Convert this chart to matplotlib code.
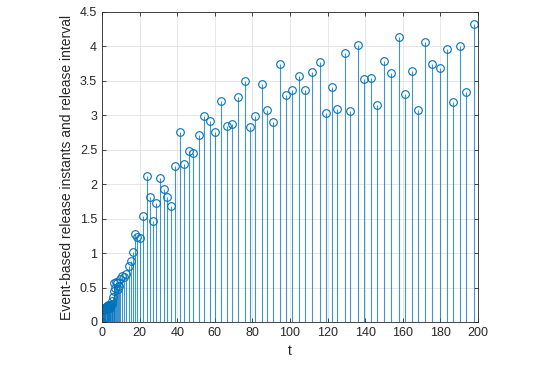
import matplotlib.pyplot as plt
import numpy as np

plt.rcParams['font.family'] = ['Liberation Sans', 'DejaVu Sans']

# dense start (t < 10)
t_early = [0.0, 0.3, 0.6, 0.9, 1.2, 1.5, 1.8, 2.1, 2.4, 2.7, 3.0, 3.3, 3.6, 3.9,
           4.2, 4.5, 4.8, 5.1, 5.4, 5.8, 6.2, 6.6, 7.0, 7.5, 8.0, 8.5, 9.0, 9.5]
y_early = [0.0, 0.17, 0.19, 0.18, 0.20, 0.21, 0.19, 0.22, 0.20, 0.23, 0.21, 0.24, 0.22, 0.25,
           0.23, 0.21, 0.24, 0.26, 0.30, 0.37, 0.45, 0.57, 0.50, 0.58, 0.56, 0.48, 0.52, 0.62]

# later release instants
t_late = [10.5, 11.7, 12.8, 14.2, 15.2, 16.3, 17.5, 18.6, 20.2, 21.6, 23.7, 25.7, 27.1,
          28.7, 31.0, 33.0, 34.7, 36.5, 38.6, 41.5, 43.6, 46.1, 48.5, 51.4, 54.4, 57.4,
          60.1, 63.1, 66.3, 69.1, 72.1, 75.8, 78.7, 81.5, 85.0, 88.0, 90.9, 94.6, 97.8,
          101.3, 104.9, 108.1, 111.8, 115.7, 118.9, 122.1, 125.2, 129.1, 132.1, 136.2,
          139.6, 143.3, 146.3, 150.2, 153.7, 157.8, 161.2, 164.9, 167.9, 171.9, 175.7,
          179.6, 183.3, 186.5, 190.4, 193.8, 198.0]
y_late = [0.67, 0.65, 0.70, 0.81, 0.89, 1.02, 1.28, 1.24, 1.22, 1.54, 2.12, 1.82, 1.46,
          1.73, 2.09, 1.93, 1.82, 1.69, 2.26, 2.76, 2.29, 2.48, 2.46, 2.72, 2.99, 2.92,
          2.76, 3.21, 2.85, 2.87, 3.26, 3.50, 2.83, 2.99, 3.45, 3.08, 2.91, 3.75, 3.29,
          3.37, 3.57, 3.37, 3.63, 3.78, 3.04, 3.41, 3.09, 3.91, 3.07, 4.02,
          3.53, 3.54, 3.15, 3.79, 3.61, 4.14, 3.31, 3.64, 3.08, 4.06, 3.75,
          3.69, 3.96, 3.19, 4.00, 3.34, 4.32]

t = t_early + t_late
y = y_early + y_late

blue = (0, 0.447, 0.741)

fig = plt.figure(figsize=(5.44, 3.66), dpi=100)
ax = fig.add_axes([102/544, 44/366, 376/544, 310/366])

ml, sl, bl = ax.stem(t, y, basefmt=' ')
plt.setp(sl, color=blue, linewidth=0.8, alpha=0.75)
plt.setp(ml, marker='o', markersize=5.5, markerfacecolor='none',
         markeredgecolor=blue, markeredgewidth=0.8)

ax.set_xlim(0, 200)
ax.set_ylim(0, 4.5)
ax.set_xticks(np.arange(0, 201, 20))
ax.set_yticks(np.arange(0, 4.51, 0.5))
ax.set_yticklabels(['0', '0.5', '1', '1.5', '2', '2.5', '3', '3.5', '4', '4.5'])
ax.grid(True, color='#e3e3e3', linewidth=0.6)
ax.set_axisbelow(True)
for s in ax.spines.values():
    s.set_color('#262626')
    s.set_linewidth(0.6)
ax.tick_params(labelsize=9, colors='#262626', direction='in', length=3, width=0.6,
               top=True, right=True)
ax.set_xlabel('t', fontsize=10, color='#262626')
ax.set_ylabel('Event-based release instants and release interval', fontsize=10, color='#262626')

fig.savefig('out.png', dpi=100)
